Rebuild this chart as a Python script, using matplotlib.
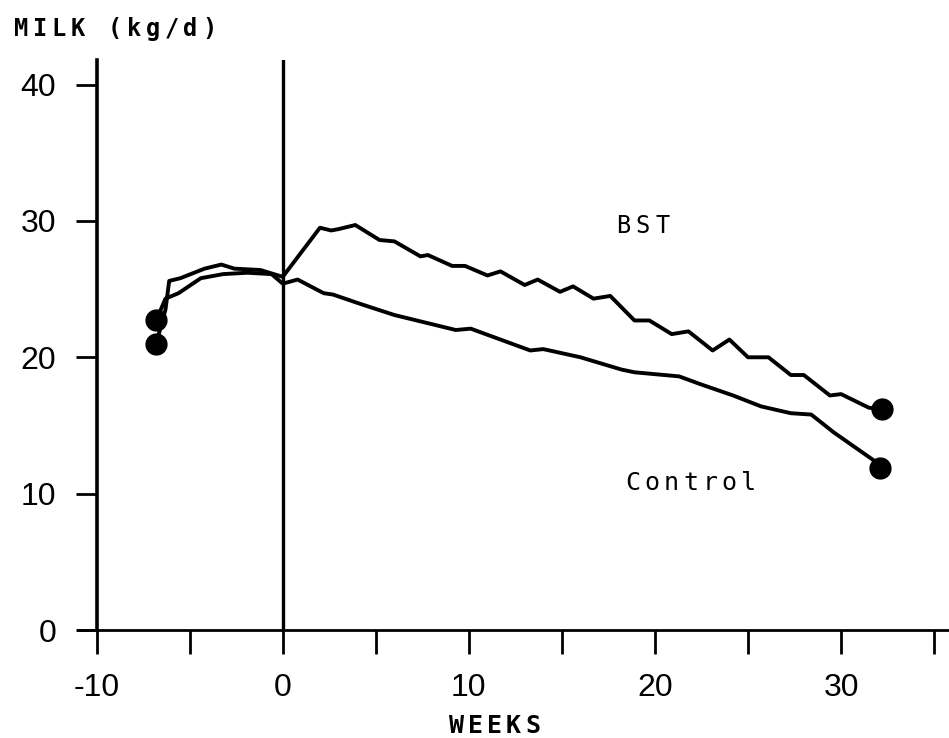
import matplotlib.pyplot as plt
from matplotlib.transforms import offset_copy

# weekly milk yield
bst_weeks = [-6.8, -6.3, -6.1, -5.5, -4.2, -3.3, -2.6, -1.2, 0, 2.0, 2.6, 3.0, 3.9,
             5.2, 6.0, 7.4, 7.8, 9.1, 9.8, 11.0, 11.7, 13.0, 13.7, 14.9, 15.6, 16.7,
             17.6, 18.9, 19.7, 20.9, 21.8, 23.1, 24.0, 25.0, 26.1, 27.3, 28.0, 29.4,
             30.0, 31.5, 32.2]
bst_milk = [21.0, 23.5, 25.6, 25.8, 26.5, 26.8, 26.5, 26.4, 25.9, 29.5, 29.3, 29.4, 29.7,
            28.6, 28.5, 27.4, 27.5, 26.7, 26.7, 26.0, 26.3, 25.3, 25.7, 24.8, 25.2, 24.3,
            24.5, 22.7, 22.7, 21.7, 21.9, 20.5, 21.3, 20.0, 20.0, 18.7, 18.7, 17.2,
            17.3, 16.3, 16.2]

ctrl_weeks = [-6.8, -6.3, -5.6, -4.4, -3.2, -1.9, -0.6, 0, 0.8, 2.2, 2.7, 4.2, 6.0, 7.8,
              9.3, 10.1, 11.3, 13.3, 14.0, 16.0, 18.2, 18.9, 21.3, 22.5, 24.2, 25.7,
              27.3, 28.4, 29.6, 31.8, 32.1]
ctrl_milk = [22.7, 24.3, 24.7, 25.8, 26.1, 26.2, 26.1, 25.4, 25.7, 24.7, 24.6, 23.9, 23.1,
             22.5, 22.0, 22.1, 21.5, 20.5, 20.6, 20.0, 19.1, 18.9, 18.6, 18.0, 17.2, 16.4,
             15.9, 15.8, 14.5, 12.4, 11.9]

x_ticks = list(range(-10, 40, 5))
x_labels = ['-10', '', '0', '', '10', '', '20', '', '30', '']
y_ticks = [0, 10, 20, 30, 40]

MONO = 'DejaVu Sans Mono'
SANS = 'Liberation Sans'


def spaced_text(fig, trans, x, y, s, step_px, **kw):
    # typewriter-style letter spacing, one glyph at a time
    for i, ch in enumerate(s):
        t = offset_copy(trans, fig=fig, x=i * step_px, y=0, units='dots')
        fig.text(x, y, ch, transform=t, ha='left', va='center', **kw)


fig = plt.figure(figsize=(9.49, 7.38), dpi=100)
ax = fig.add_axes([0.0822, 0.1463, 0.9178, 0.7724])

ax.plot(bst_weeks, bst_milk, color='black', lw=2.8, marker='o', markersize=15,
        markevery=[0, len(bst_weeks) - 1])
ax.plot(ctrl_weeks, ctrl_milk, color='black', lw=2.8, marker='o', markersize=15,
        markevery=[0, len(ctrl_weeks) - 1])

ax.axvline(0, color='black', lw=2.4)

ax.set_xlim(-11, 35.8)
ax.set_ylim(0, 41.8)
for side in ['top', 'right']:
    ax.spines[side].set_visible(False)
ax.spines['left'].set_position(('data', -10))
ax.spines['left'].set_linewidth(2.6)
ax.spines['bottom'].set_linewidth(2.0)

ax.set_xticks(x_ticks)
ax.set_xticklabels(x_labels, fontsize=23, fontfamily=SANS)
ax.set_yticks(y_ticks)
ax.set_yticklabels([str(v) for v in y_ticks], fontsize=23, fontfamily=SANS)
ax.tick_params(axis='x', direction='out', length=17, width=2.0, pad=14)
ax.tick_params(axis='y', direction='out', length=15, width=2.0, pad=14)

spaced_text(fig, fig.transFigure, 14 / 949, 1 - 29 / 738, 'MILK (kg/d)', 18.8,
            fontsize=17, fontfamily=MONO, fontweight='bold')
spaced_text(fig, fig.transFigure, 449 / 949, 1 - 726 / 738, 'WEEKS', 19,
            fontsize=18, fontfamily=MONO, fontweight='bold')
spaced_text(fig, ax.transData, 17.9, 29.6, 'BST', 20, fontsize=17, fontfamily=MONO)
spaced_text(fig, ax.transData, 18.4, 10.75, 'Control', 19.3, fontsize=18, fontfamily=MONO)

fig.savefig('out.png', dpi=100)
